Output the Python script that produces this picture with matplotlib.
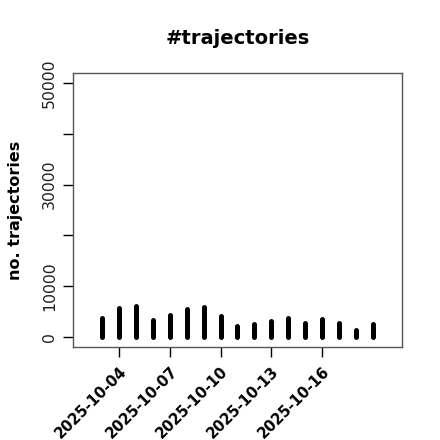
import matplotlib
matplotlib.use("Agg")
import matplotlib.pyplot as plt
import matplotlib.dates as mdates
import numpy as np

dates = ["2025-10-03", "2025-10-04", "2025-10-05", "2025-10-06", "2025-10-07",
         "2025-10-08", "2025-10-09", "2025-10-10", "2025-10-11", "2025-10-12",
         "2025-10-13", "2025-10-14", "2025-10-15", "2025-10-16", "2025-10-17",
         "2025-10-18", "2025-10-19"]
counts = [3800, 5600, 6000, 3400, 4300, 5400, 5800, 4100, 2100, 2600,
          3100, 3700, 2700, 3500, 2700, 1300, 2600]
xtick_labels = ["2025-10-04", "2025-10-07", "2025-10-10", "2025-10-13", "2025-10-16"]
ytick_values = [0, 10000, 20000, 30000, 40000, 50000]
ytick_labels = ["0", "10000", "", "30000", "", "50000"]
xrange_dates = ["2025-10-02", "2025-10-20"]

x = mdates.datestr2num(dates)
xt = mdates.datestr2num(xtick_labels)
xr = mdates.datestr2num(xrange_dates)

fig = plt.figure(figsize=(4.4, 4.4), dpi=100)
ax = fig.add_axes([73/440, 93/440, 329/440, 274/440])

ax.vlines(x, 0, counts, colors="black", linewidth=3.6, capstyle="round")

span = xr[1] - xr[0]
ax.set_xlim(xr[0] - 0.04 * span, xr[1] + 0.04 * span)
ax.set_ylim(-2000, 52000)

for s in ax.spines.values():
    s.set_color("#555555")
    s.set_linewidth(1.0)

ax.set_xticks(xt)
ax.set_xticklabels(xtick_labels, rotation=45, ha="right", rotation_mode="anchor",
                   fontsize=10.6, fontweight="bold")
ax.set_yticks(ytick_values)
ax.set_yticklabels(ytick_labels, rotation=90, va="center", fontsize=11.3, color="#222222")
ax.tick_params(axis="both", length=7, width=1, color="black", pad=3)
ax.tick_params(axis="x", pad=5)
ax.tick_params(axis="y", pad=4.5)

ax.set_ylabel("no. trajectories", fontsize=11.5, fontweight="bold", labelpad=14)
ax.set_title("#trajectories", fontsize=14, fontweight="bold", pad=21)

fig.savefig("out.png", dpi=100)
